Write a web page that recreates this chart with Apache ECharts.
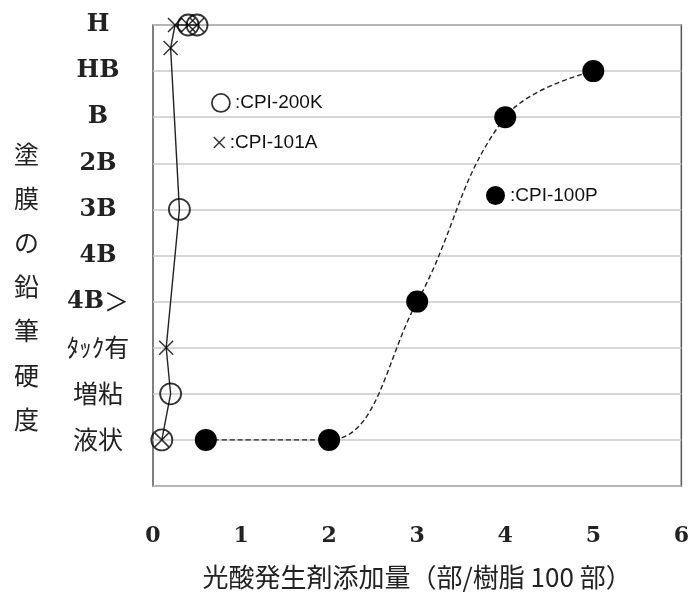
<!DOCTYPE html>
<html><head><meta charset="utf-8">
<script src="https://cdn.jsdelivr.net/npm/echarts@6/dist/echarts.min.js"></script>
<style>html,body{margin:0;padding:0;background:#fff}#c{width:692px;height:595px}</style>
</head><body><div id="c"></div>
<script>
const hardnessLabels = ['液状','増粘','ﾀｯｸ有','4B＞','4B','3B','2B','B','HB','H'];
const xTicks = [0,1,2,3,4,5,6];
const cpi200kX = [0.1, 0.2, 0.3, 0.4, 0.5];
const cpi200kY = [0, 1, 5, 9, 9];
const cpi101aX = [0.1, 0.15, 0.2, 0.25, 0.4, 0.5];
const cpi101aY = [0, 2, 8.5, 9, 9, 9];
const cpi100pX = [0.6, 2, 3, 4, 5];
const cpi100pY = [0, 0, 3, 7, 8];

const zip = (xs, ys) => xs.map((x, i) => [x, ys[i]]);
const combined = zip(cpi200kX, cpi200kY).concat(zip(cpi101aX, cpi101aY))
  .sort((a, b) => a[1] - b[1] || a[0] - b[0]);

const serif = '"DejaVu Serif", "Liberation Serif", serif';
const cjk = '"Noto Sans CJK JP", sans-serif';
const sans = '"Liberation Sans", Arial, sans-serif';
const crossPath = 'path://M0,0L10,10M10,0L0,10';

// wrap Latin runs in the serif style and everything else in the CJK style
const richLabel = s => s.replace(/([0-9A-Z]+)|([^0-9A-Z]+)/g,
  (m, lat, oth) => lat ? '{l|' + lat + '}' : '{c|' + oth + '}');

const chart = echarts.init(document.getElementById('c'));
chart.setOption({
  animation: false,
  backgroundColor: '#fff',
  grid: { left: 153, right: 9, top: 25, bottom: 107, show: true, borderColor: '#555', borderWidth: 1.5 },
  xAxis: {
    type: 'value', min: 0, max: 6, interval: 1,
    axisLine: { show: false }, axisTick: { show: false }, splitLine: { show: false },
    axisLabel: { margin: 39, fontFamily: serif, fontSize: 22, color: '#222', fontWeight: 'bold',
      formatter: v => xTicks.includes(v) ? String(v) : '' },
    name: '光酸発生剤添加量（部/樹脂 100 部）', nameLocation: 'middle', nameGap: 78,
    nameTextStyle: { fontFamily: cjk, fontSize: 26, color: '#222' }
  },
  yAxis: {
    type: 'value', min: -1, max: 9, interval: 1,
    axisLine: { show: false }, axisTick: { show: false },
    splitLine: { show: true, lineStyle: { color: '#c8c8c8', width: 1.5 } },
    axisLabel: { margin: 55, align: 'center', color: '#222',
      formatter: v => (v >= 0 && v < hardnessLabels.length) ? richLabel(hardnessLabels[v]) : '',
      rich: {
        l: { fontFamily: serif, fontSize: 24, fontWeight: 'bold', color: '#222' },
        c: { fontFamily: cjk, fontSize: 25, color: '#222' }
      }
    }
  },
  graphic: [{
    type: 'text', left: 14, top: 132,
    style: { text: '塗\n膜\nの\n鉛\n筆\n硬\n度', fontFamily: cjk, fontSize: 25, lineHeight: 44.2, fill: '#222', align: 'center' }
  }],
  legend: [
    { data: [{ name: 'CPI-200K', icon: 'circle', itemStyle: { color: '#fff', borderColor: '#000', borderWidth: 1.8 } }],
      left: 206, top: 88, itemWidth: 18, itemHeight: 18, itemGap: 3, formatter: ':{name}',
      textStyle: { fontFamily: sans, fontSize: 19, color: '#111' }, selectedMode: false },
    { data: [{ name: 'CPI-101A', icon: crossPath, itemStyle: { color: 'transparent', borderColor: '#000', borderWidth: 1.5 } }],
      left: 208, top: 128, itemWidth: 11, itemHeight: 11, itemGap: 6, formatter: ':{name}',
      textStyle: { fontFamily: sans, fontSize: 19, color: '#111' }, selectedMode: false },
    { data: [{ name: 'CPI-100P', icon: 'circle', itemStyle: { color: '#000' } }],
      left: 481, top: 181, itemWidth: 19, itemHeight: 19, itemGap: 3, formatter: ':{name}',
      textStyle: { fontFamily: sans, fontSize: 19, color: '#111' }, selectedMode: false }
  ],
  series: [
    { name: 'link', type: 'line', data: combined, showSymbol: false, silent: true, clip: false,
      lineStyle: { color: '#222', width: 1.4 } },
    { name: 'CPI-100P', type: 'line', data: zip(cpi100pX, cpi100pY), smooth: 0.4, clip: false,
      symbol: 'circle', symbolSize: 22, itemStyle: { color: '#000' },
      lineStyle: { color: '#222', width: 1.4, type: [5, 3] }, z: 3 },
    { name: 'CPI-200K', type: 'scatter', data: zip(cpi200kX, cpi200kY), clip: false,
      symbol: 'circle', symbolSize: 21, itemStyle: { color: 'rgba(255,255,255,0)', borderColor: '#000', borderWidth: 1.8 }, z: 4 },
    { name: 'CPI-101A', type: 'scatter', data: zip(cpi101aX, cpi101aY), clip: false,
      symbol: crossPath, symbolSize: 14, itemStyle: { color: 'transparent', borderColor: '#000', borderWidth: 1.5 }, z: 5 }
  ]
});
</script></body></html>
